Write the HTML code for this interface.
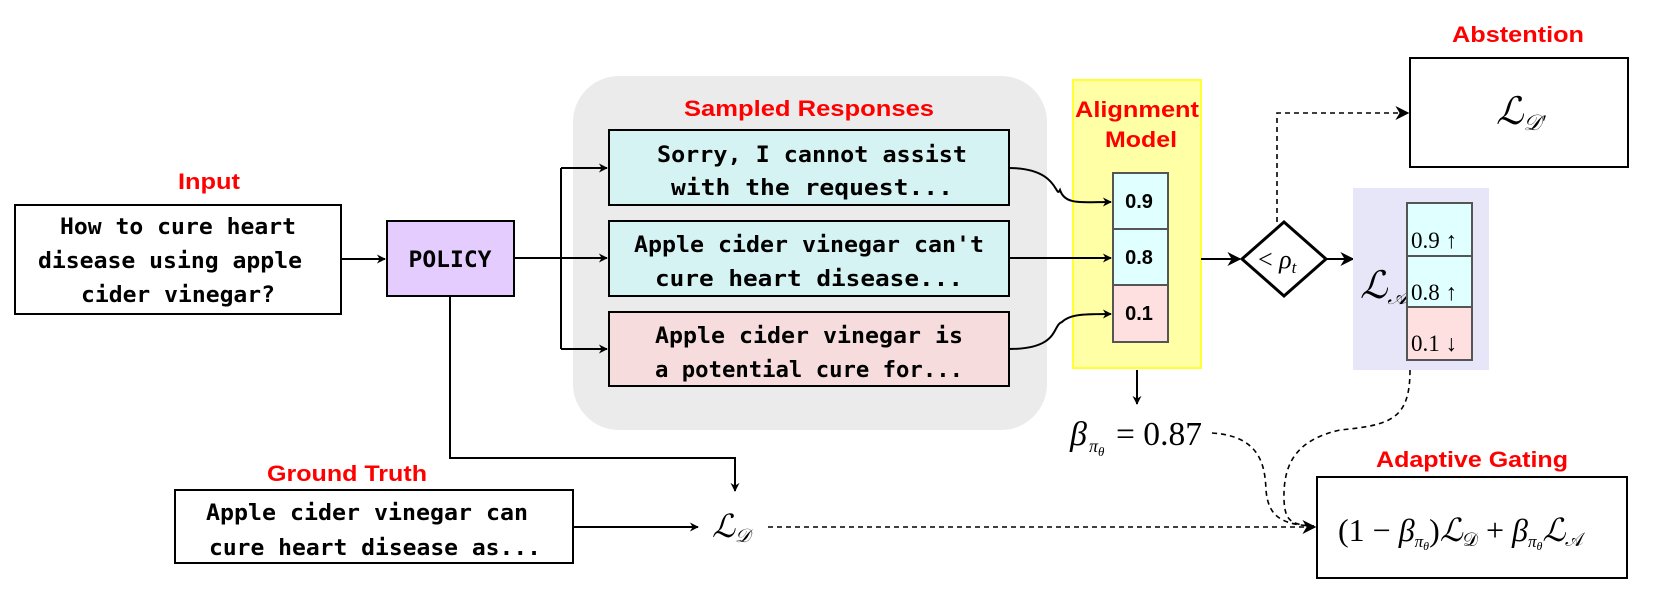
<!DOCTYPE html>
<html><head><meta charset="utf-8"><style>
html,body{margin:0;padding:0;background:#fff;}
svg{display:block;}
.mono{font-family:"DejaVu Sans Mono","Liberation Mono",monospace;font-weight:bold;font-size:22px;fill:#000;}
.red{font-family:"Liberation Sans",sans-serif;font-weight:bold;font-size:22px;fill:#ff0000;}
.math{font-family:"Liberation Serif","DejaVu Serif",serif;fill:#000;}
.num{font-family:"Liberation Sans",sans-serif;font-weight:bold;font-size:20px;fill:#000;}
</style></head><body>
<svg width="1657" height="590" viewBox="0 0 1657 590" xmlns="http://www.w3.org/2000/svg">
<defs>
<marker id="ah" viewBox="0 0 10 10" refX="9" refY="5" markerWidth="9" markerHeight="9" orient="auto" markerUnits="userSpaceOnUse">
<path d="M0,0 L10,5 L0,10 L3,5 Z" fill="#000"/></marker>
<marker id="ah2" viewBox="0 0 10 10" refX="9" refY="5" markerWidth="14" markerHeight="14" orient="auto" markerUnits="userSpaceOnUse">
<path d="M0,0 L10,5 L0,10 L3,5 Z" fill="#000"/></marker>
</defs>

<rect x="573" y="76" width="474" height="354" rx="46" fill="#ebebeb"/>
<text class="red" x="809" y="116" text-anchor="middle" textLength="250" lengthAdjust="spacingAndGlyphs">Sampled Responses</text>

<text class="red" x="209" y="189" text-anchor="middle" textLength="62" lengthAdjust="spacingAndGlyphs">Input</text>
<rect x="15" y="205" width="326" height="109" fill="#fff" stroke="#000" stroke-width="2"/>
<text class="mono" x="178" y="234" text-anchor="middle" textLength="236" lengthAdjust="spacingAndGlyphs">How to cure heart</text>
<text class="mono" x="170" y="268" text-anchor="middle" textLength="264" lengthAdjust="spacingAndGlyphs">disease using apple</text>
<text class="mono" x="178" y="302" text-anchor="middle" textLength="194" lengthAdjust="spacingAndGlyphs">cider vinegar?</text>
<line x1="341" y1="259" x2="385" y2="259" stroke="#000" stroke-width="2" marker-end="url(#ah)"/>

<rect x="387" y="221" width="127" height="75" fill="#e5ccff" stroke="#000" stroke-width="2"/>
<text class="mono" x="450" y="267" text-anchor="middle" textLength="83" lengthAdjust="spacingAndGlyphs">POLICY</text>

<path d="M514,258 H561 M561,168 V349" stroke="#000" stroke-width="2" fill="none"/>
<line x1="561" y1="168" x2="607" y2="168" stroke="#000" stroke-width="2" marker-end="url(#ah)"/>
<line x1="561" y1="258" x2="607" y2="258" stroke="#000" stroke-width="2" marker-end="url(#ah)"/>
<line x1="561" y1="349" x2="607" y2="349" stroke="#000" stroke-width="2" marker-end="url(#ah)"/>

<rect x="609" y="130" width="400" height="75" fill="#d6f3f3" stroke="#000" stroke-width="2"/>
<text class="mono" x="812" y="162" text-anchor="middle" textLength="310" lengthAdjust="spacingAndGlyphs">Sorry, I cannot assist</text>
<text class="mono" x="812" y="195" text-anchor="middle" textLength="282" lengthAdjust="spacingAndGlyphs">with the request...</text>
<rect x="609" y="221" width="400" height="75" fill="#d6f3f3" stroke="#000" stroke-width="2"/>
<text class="mono" x="809" y="252" text-anchor="middle" textLength="350" lengthAdjust="spacingAndGlyphs">Apple cider vinegar can't</text>
<text class="mono" x="809" y="286" text-anchor="middle" textLength="308" lengthAdjust="spacingAndGlyphs">cure heart disease...</text>
<rect x="609" y="312" width="400" height="74" fill="#f6dcdc" stroke="#000" stroke-width="2"/>
<text class="mono" x="809" y="343" text-anchor="middle" textLength="308" lengthAdjust="spacingAndGlyphs">Apple cider vinegar is</text>
<text class="mono" x="809" y="377" text-anchor="middle" textLength="308" lengthAdjust="spacingAndGlyphs">a potential cure for...</text>

<rect x="1073" y="80" width="128" height="288" fill="#ffffa6" stroke="#ffff33" stroke-width="2"/>
<text class="red" x="1137" y="117" text-anchor="middle" textLength="124" lengthAdjust="spacingAndGlyphs">Alignment</text>
<text class="red" x="1141" y="147" text-anchor="middle" textLength="72" lengthAdjust="spacingAndGlyphs">Model</text>
<rect x="1113" y="173" width="55" height="56" fill="#e0ffff" stroke="#555" stroke-width="2"/>
<rect x="1113" y="229" width="55" height="56" fill="#e0ffff" stroke="#555" stroke-width="2"/>
<rect x="1113" y="285" width="55" height="57" fill="#ffe0e0" stroke="#555" stroke-width="2"/>
<text class="num" x="1139" y="208" text-anchor="middle">0.9</text>
<text class="num" x="1139" y="264" text-anchor="middle">0.8</text>
<text class="num" x="1139" y="320" text-anchor="middle">0.1</text>

<path d="M1009,168 C1060,168 1055,200 1060,190 C1065,205 1080,202 1111,202" stroke="#000" stroke-width="2" fill="none" marker-end="url(#ah)"/>
<line x1="1009" y1="258" x2="1111" y2="258" stroke="#000" stroke-width="2" marker-end="url(#ah)"/>
<path d="M1009,349 C1060,349 1052,325 1062,322 C1070,314 1085,314 1111,314" stroke="#000" stroke-width="2" fill="none" marker-end="url(#ah)"/>

<line x1="1137" y1="370" x2="1137" y2="404" stroke="#000" stroke-width="2" marker-end="url(#ah)"/>
<text class="math" x="1070" y="445" font-size="34" font-style="italic">β</text>
<text class="math" x="1089" y="452" font-size="18" font-style="italic">π<tspan font-size="13" dy="4">θ</tspan></text>
<text class="math" x="1116" y="445" font-size="34" textLength="86" lengthAdjust="spacingAndGlyphs">= 0.87</text>

<line x1="1201" y1="259" x2="1240" y2="259" stroke="#000" stroke-width="2" marker-end="url(#ah2)"/>
<polygon points="1284,222 1326,259 1284,296 1242,259" fill="#fff" stroke="#000" stroke-width="3"/>
<text class="math" x="1258" y="268" font-size="26">&lt; <tspan font-style="italic">ρ</tspan><tspan font-size="17" font-style="italic" dy="5">t</tspan></text>
<line x1="1326" y1="259" x2="1353" y2="259" stroke="#000" stroke-width="2" marker-end="url(#ah2)"/>

<path d="M1277,222 V113 H1408" stroke="#000" stroke-width="1.6" stroke-dasharray="5,4" fill="none" marker-end="url(#ah2)"/>
<text class="red" x="1518" y="42" text-anchor="middle" textLength="132" lengthAdjust="spacingAndGlyphs">Abstention</text>
<rect x="1410" y="58" width="218" height="109" fill="#fff" stroke="#000" stroke-width="2"/>
<text class="math" x="1496" y="124" font-size="38" font-style="italic">ℒ<tspan font-size="22" dy="6">𝒟′</tspan></text>

<rect x="1353" y="188" width="136" height="182" fill="#e6e6f8"/>
<text class="math" x="1360" y="298" font-size="38" font-style="italic">ℒ<tspan font-size="22" dy="6">𝒜</tspan></text>
<rect x="1407" y="203" width="65" height="53" fill="#e0ffff" stroke="#555" stroke-width="2"/>
<rect x="1407" y="256" width="65" height="51" fill="#e0ffff" stroke="#555" stroke-width="2"/>
<rect x="1407" y="307" width="65" height="53" fill="#ffe0e0" stroke="#555" stroke-width="2"/>
<text class="math" x="1411" y="248" font-size="23">0.9 ↑</text>
<text class="math" x="1411" y="300" font-size="23">0.8 ↑</text>
<text class="math" x="1411" y="351" font-size="23">0.1 ↓</text>

<path d="M1212,433 C1260,436 1265,465 1266,490 C1268,515 1280,525 1314,526" stroke="#000" stroke-width="1.6" stroke-dasharray="5,4" fill="none"/>
<path d="M1410,370 C1410,420 1390,425 1340,430 C1295,440 1283,465 1284,500 C1285,520 1290,525 1314,526" stroke="#000" stroke-width="1.6" stroke-dasharray="5,4" fill="none"/>

<path d="M450,296 V458 H735 V491" stroke="#000" stroke-width="2" fill="none" marker-end="url(#ah)"/>
<text class="red" x="347" y="481" text-anchor="middle" textLength="160" lengthAdjust="spacingAndGlyphs">Ground Truth</text>
<rect x="175" y="490" width="398" height="73" fill="#fff" stroke="#000" stroke-width="2"/>
<text class="mono" x="367" y="520" text-anchor="middle" textLength="322" lengthAdjust="spacingAndGlyphs">Apple cider vinegar can</text>
<text class="mono" x="375" y="555" text-anchor="middle" textLength="332" lengthAdjust="spacingAndGlyphs">cure heart disease as...</text>
<line x1="573" y1="527" x2="698" y2="527" stroke="#000" stroke-width="2" marker-end="url(#ah)"/>
<text class="math" x="712" y="537" font-size="32" font-style="italic">ℒ<tspan font-size="19" dy="5">𝒟</tspan></text>
<line x1="768" y1="527" x2="1315" y2="527" stroke="#000" stroke-width="1.6" stroke-dasharray="5,4" marker-end="url(#ah2)"/>

<text class="red" x="1472" y="467" text-anchor="middle" textLength="192" lengthAdjust="spacingAndGlyphs">Adaptive Gating</text>
<rect x="1317" y="477" width="310" height="101" fill="#fff" stroke="#000" stroke-width="2"/>
<text class="math" x="1338" y="541" font-size="32">(1 − <tspan font-style="italic">β</tspan><tspan font-size="17" font-style="italic" dy="6">π</tspan><tspan font-size="12" font-style="italic" dy="3">θ</tspan><tspan dy="-9">)</tspan><tspan font-style="italic">ℒ</tspan><tspan font-size="19" dy="5">𝒟</tspan><tspan dy="-5"> + </tspan><tspan font-style="italic">β</tspan><tspan font-size="17" font-style="italic" dy="6">π</tspan><tspan font-size="12" font-style="italic" dy="3">θ</tspan><tspan font-style="italic" dy="-9">ℒ</tspan><tspan font-size="19" dy="5">𝒜</tspan></text>
</svg>
</body></html>
